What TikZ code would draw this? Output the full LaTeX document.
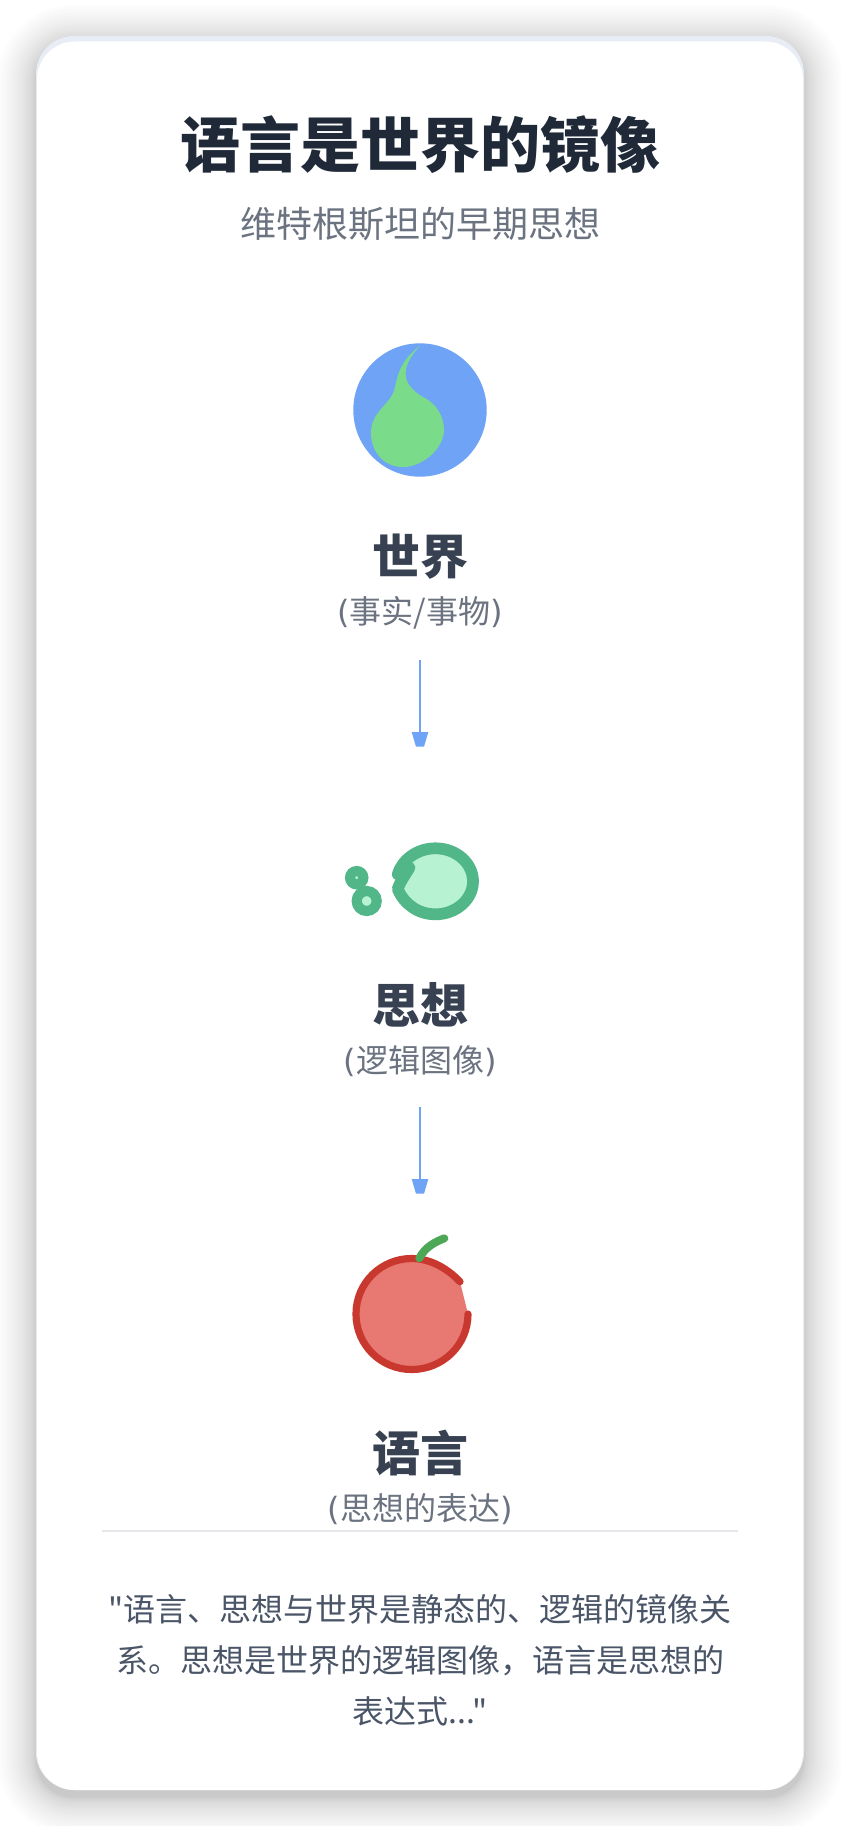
\documentclass[tikz,border=0pt]{standalone}
\usepackage{fontspec}
\setmainfont{Noto Sans CJK SC}
\newfontfamily\plainq{Noto Sans CJK SC}
\newfontfamily\parenf{DejaVu Sans}
\definecolor{titlec}{HTML}{1F2937}
\definecolor{subc}{HTML}{6B7280}
\definecolor{headc}{HTML}{374151}
\definecolor{quotec}{HTML}{4A5568}
\definecolor{rulec}{HTML}{E5E7EB}
\definecolor{arrowc}{HTML}{6FA3F5}
\definecolor{greenc}{HTML}{7ADC8A}
\definecolor{thinkd}{HTML}{52B788}
\definecolor{thinkl}{HTML}{B7F2D2}
\definecolor{redd}{HTML}{C9382E}
\definecolor{redl}{HTML}{E87872}
\definecolor{stemc}{HTML}{4CA857}
\definecolor{edgec}{HTML}{E8EDF5}
\newcommand{\lp}{{\parenf(}}
\newcommand{\rp}{{\parenf)}}
\tikzset{
  x=0.75pt,y=-0.75pt,
  txt/.style={inner sep=0pt,outer sep=0pt,anchor=base,align=center},
  titlet/.style={txt,text=titlec,font=\fontsize{45pt}{54pt}\selectfont\bfseries},
  subt/.style={txt,text=subc,font=\fontsize{27pt}{32pt}\selectfont},
  headt/.style={txt,text=headc,font=\fontsize{36pt}{43pt}\selectfont\bfseries},
  notet/.style={txt,text=subc,font=\fontsize{24pt}{29pt}\selectfont},
  quotet/.style={txt,text=quotec,anchor=center,font=\plainq\fontsize{24pt}{38.4pt}\selectfont},
  flow/.style={arrowc,line width=2.2pt},
  flowhead/.style={arrowc},
}
\begin{document}
\begin{tikzpicture}
\useasboundingbox (0,0) rectangle (840,1826);
\fill[white] (0,0) rectangle (840,1826);
% card shadow
\foreach \i in {1,...,18}{
  \pgfmathsetmacro{\s}{38*(\i/18)^1.8}
  \pgfmathsetmacro{\r}{28+0.75*\s}
  \fill[black,opacity=0.011,rounded corners=\r pt]
    ({36-\s},{43-\s}) rectangle ({804+\s},{1797+\s});
}
\fill[edgec,rounded corners=28.5pt] (36,36) rectangle (804,1790);
\fill[white,rounded corners=28.5pt] (37,41.5) rectangle (803,1790);
% texts
\node[titlet] (title) at (420,168) {语言是世界的镜像};
\node[subt] (sub) at (420,238) {维特根斯坦的早期思想};
\node[headt] (h1) at (420,574) {世界};
\node[notet] (n1) at (420,623) {\lp 事实/事物\rp};
\node[headt] (h2) at (420,1023) {思想};
\node[notet] (n2) at (420,1072) {\lp 逻辑图像\rp};
\node[headt] (h3) at (420,1471) {语言};
\node[notet] (n3) at (420,1520) {\lp 思想的表达\rp};
\draw[rulec,line width=1.5pt] (102,1531) coordinate (ra) -- (738,1531) coordinate (rb);
\node[quotet] (quote) at (420,1660) {"语言、思想与世界是静态的、逻辑的镜像关\\系。思想是世界的逻辑图像，语言是思想的\\表达式..."};
% world icon
\fill[arrowc] (420,410) circle[radius=66.7];
\fill[greenc] (420.7,345) .. controls (410,356) and (404,368) .. (406,377)
  .. controls (407,385) and (415,393) .. (425,398)
  .. controls (436,404) and (444,416) .. (444,430)
  .. controls (444,448) and (423,467) .. (403,467)
  .. controls (382,467) and (371,450) .. (371,433)
  .. controls (371,412) and (389,405) .. (393.5,392)
  .. controls (396,384) and (397,376) .. (400,370)
  .. controls (404,360) and (412,352) .. (420.7,345) -- cycle;
% thought icon
\begin{scope}[draw=thinkd,fill=thinkl,line width=7.6pt]
\filldraw (356.7,877.7) circle[radius=6.67];
\filldraw (366.7,901) circle[radius=10];
\filldraw[line width=8.8pt,line join=round] (397.7,874.3) .. controls (402,860) and (417,848.3) .. (435.5,848.3)
  .. controls (456,848.3) and (473,863) .. (473,881.3)
  .. controls (473,899.5) and (456,914.3) .. (435.5,914.3)
  .. controls (418,914.3) and (404,904) .. (397.7,889)
  .. controls (400,882) and (405,875) .. (409.5,867.7) -- cycle;
\end{scope}
% language icon
\fill[redl] (468,1314) .. controls (468,1345) and (442.7,1369.5) .. (411.7,1369.5)
  .. controls (381,1369.5) and (356,1345) .. (356,1314)
  .. controls (356,1283) and (381,1258.5) .. (411.7,1258.5)
  .. controls (430,1258.5) and (447,1268) .. (460,1281.7) -- cycle;
\draw[redd,line width=5.4pt,line cap=round] (468,1314) .. controls (468,1345) and (442.7,1369.5) .. (411.7,1369.5)
  .. controls (381,1369.5) and (356,1345) .. (356,1314)
  .. controls (356,1283) and (381,1258.5) .. (411.7,1258.5)
  .. controls (430,1258.5) and (447,1268) .. (460,1281.7);
\draw[stemc,line width=6pt,line cap=round] (419.3,1258.3) .. controls (425,1247) and (435,1242) .. (444.3,1238.3);
% connectors
\coordinate (a1s) at (420,660);
\coordinate (a1e) at (420,732);
\coordinate (a2s) at (420,1107);
\coordinate (a2e) at (420,1179);
\draw[flow] (a1s) -- (a1e);
\fill[flowhead] ([xshift=-6.25pt]a1e) -- ([xshift=6.25pt]a1e) -- ([xshift=3pt,yshift=-11pt]a1e) -- ([xshift=-3pt,yshift=-11pt]a1e) -- cycle;
\draw[flow] (a2s) -- (a2e);
\fill[flowhead] ([xshift=-6.25pt]a2e) -- ([xshift=6.25pt]a2e) -- ([xshift=3pt,yshift=-11pt]a2e) -- ([xshift=-3pt,yshift=-11pt]a2e) -- cycle;
\end{tikzpicture}
\end{document}
